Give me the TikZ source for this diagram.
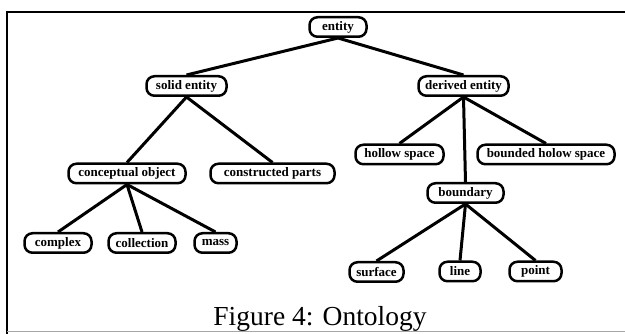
\documentclass[tikz,border=0pt]{standalone}
\usepackage{fontspec}
\setmainfont{Liberation Serif}
\newfontfamily\labelfont{Liberation Serif}
\begin{document}
\begin{tikzpicture}[x=1pt, y=-1pt,
  ontnode/.style={draw, line width=2.5pt, rounded corners=8pt,
    minimum height=19.5pt, inner sep=0pt,
    font=\labelfont\bfseries\fontsize{13}{13}\selectfont},
  branch/.style={line width=3pt},
  frameline/.style={line width=2pt}]
\useasboundingbox (0,0) rectangle (625,334);

% outer frame
\draw[frameline] (7,334) -- (7,12) -- (630,12);
\draw[line width=1pt, black!35] (7,332) -- (630,332);

% nodes of the ontology tree
\node[ontnode, minimum width=57pt]  (entity)   at (338,27)    {entity};
\node[ontnode, minimum width=80pt]  (solid)    at (186.5,86)  {solid entity};
\node[ontnode, minimum width=90pt]  (derived)  at (463.5,86)  {derived entity};
\node[ontnode, minimum width=117pt] (concept)  at (127,173.5) {conceptual object};
\node[ontnode, minimum width=124pt] (parts)    at (272.5,173.5) {constructed parts};
\node[ontnode, minimum width=88pt]  (hollow)   at (399.5,154.5) {hollow space};
\node[ontnode, minimum width=137pt] (bounded)  at (546,154.5) {bounded holow space};
\node[ontnode, minimum width=76pt]  (boundary) at (465.5,193) {boundary};
\node[ontnode, minimum width=67pt]  (complex)  at (58,243)    {complex};
\node[ontnode, minimum width=67pt]  (collect)  at (142,243)   {collection};
\node[ontnode, minimum width=42pt]  (mass)     at (215.5,243) {mass};
\node[ontnode, minimum width=54pt]  (surface)  at (376.5,272) {surface};
\node[ontnode, minimum width=41pt]  (line)     at (460,271.5) {line};
\node[ontnode, minimum width=52pt]  (point)    at (535.5,271.5) {point};

% branches
\draw[branch] (entity.south) -- (solid.north);
\draw[branch] (entity.south) -- (derived.north);
\draw[branch] (solid.south) -- (concept.north);
\draw[branch] (solid.south) -- (parts.north);
\draw[branch] (derived.south) -- (hollow.north);
\draw[branch] (derived.south) -- (bounded.north);
\draw[branch] (derived.south) -- (boundary.north);
\draw[branch] (concept.south) -- (complex.north);
\draw[branch] (concept.south) -- (collect.north);
\draw[branch] (concept.south) -- (mass.north);
\draw[branch] (boundary.south) -- (surface.north);
\draw[branch] (boundary.south) -- (line.north);
\draw[branch] (boundary.south) -- (point.north);

% caption
\node[anchor=base, inner sep=0pt, font=\fontsize{27.5}{27.5}\selectfont] (caption) at (320,326) {Figure 4: Ontology};
\end{tikzpicture}
\end{document}
